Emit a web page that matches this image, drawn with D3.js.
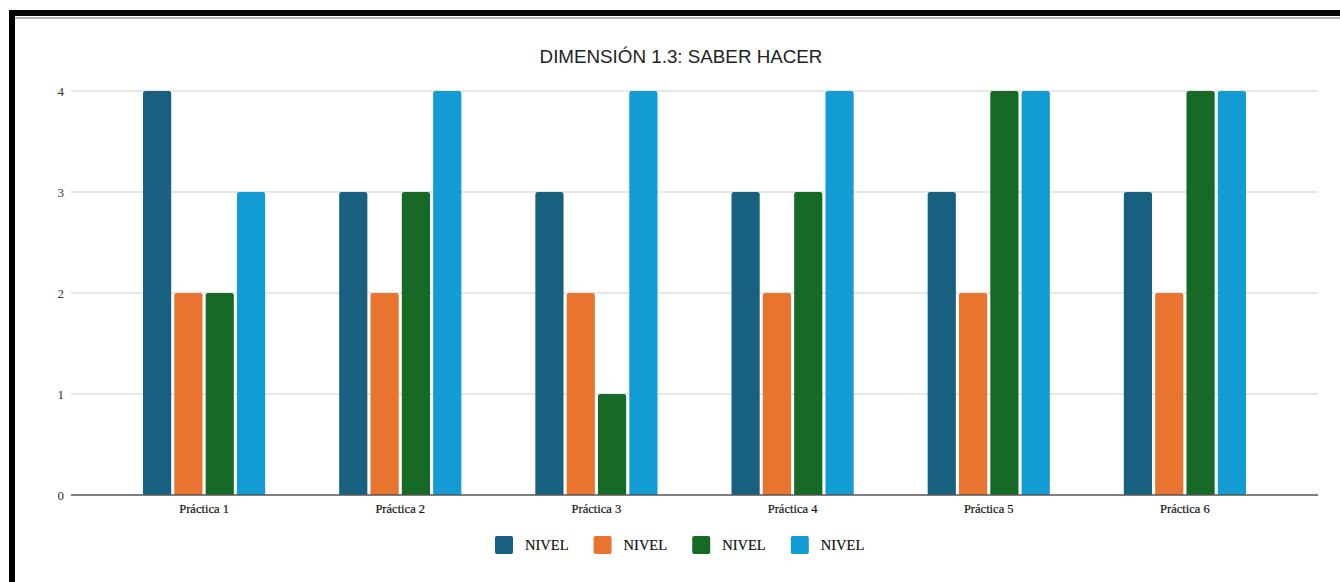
<!DOCTYPE html>
<html>
<head>
<meta charset="utf-8">
<script src="https://cdn.jsdelivr.net/npm/d3@7"></script>
<style>
  html, body { margin: 0; padding: 0; background: #fff; }
  svg { display: block; }
</style>
</head>
<body>
<svg id="chart" width="1340" height="582"></svg>
<script>
// Chart data
const title = "DIMENSIÓN 1.3: SABER HACER";
const categories = ["Práctica 1", "Práctica 2", "Práctica 3", "Práctica 4", "Práctica 5", "Práctica 6"];
const seriesNames = ["NIVEL", "NIVEL", "NIVEL", "NIVEL"];
const seriesColors = ["#18607f", "#e8742f", "#176a26", "#139bd3"];
const series1 = [4, 3, 3, 3, 3, 3];
const series2 = [2, 2, 2, 2, 2, 2];
const series3 = [2, 3, 1, 3, 4, 4];
const series4 = [3, 4, 4, 4, 4, 4];
const yTicks = [0, 1, 2, 3, 4];

const seriesValues = [series1, series2, series3, series4];

const svg = d3.select("#chart");
const W = 1340, H = 582;

// Frame: thick dark edge on top and left, thin grey rule below the top edge
svg.append("rect").attr("x", 9).attr("y", 10).attr("width", W - 9).attr("height", 6).attr("fill", "#000");
svg.append("rect").attr("x", 9).attr("y", 10).attr("width", 6).attr("height", H - 10).attr("fill", "#000");
svg.append("rect").attr("x", 15).attr("y", 17).attr("width", W - 15).attr("height", 2).attr("fill", "#b4b4b4");

const plotLeft = 71, plotRight = 1318;
const y = d3.scaleLinear().domain([0, 4]).range([495, 91]);
const x0 = d3.scaleBand().domain(categories).range([106, 1283]).padding(0);
const groupPad = 37;
const x1 = d3.scaleBand().domain(d3.range(seriesValues.length))
  .range([groupPad, x0.bandwidth() - groupPad]).paddingInner(0.1);

// Title
svg.append("text")
  .attr("x", 681).attr("y", 63)
  .attr("text-anchor", "middle")
  .attr("font-family", "'Liberation Sans', Arial, sans-serif")
  .attr("font-size", 18.8)
  .attr("fill", "#222")
  .text(title);

// Horizontal gridlines
svg.append("g").selectAll("line").data(yTicks.filter(d => d > 0)).join("line")
  .attr("x1", plotLeft).attr("x2", plotRight)
  .attr("y1", d => y(d)).attr("y2", d => y(d))
  .attr("stroke", "#cfcfcf").attr("stroke-width", 1);

// Y tick labels
svg.append("g").selectAll("text").data(yTicks).join("text")
  .attr("x", 64).attr("y", d => y(d) + 4.5)
  .attr("text-anchor", "end")
  .attr("font-family", "'Liberation Serif', serif")
  .attr("font-size", 13)
  .attr("fill", "#333")
  .text(d => d);

// Rounded-top bar path
function barPath(x, yTop, w, yBase, r) {
  r = Math.min(r, w / 2, (yBase - yTop));
  return `M${x},${yBase}V${yTop + r}Q${x},${yTop} ${x + r},${yTop}H${x + w - r}Q${x + w},${yTop} ${x + w},${yTop + r}V${yBase}Z`;
}

// Bars
const groups = svg.append("g").selectAll("g").data(categories).join("g")
  .attr("transform", d => `translate(${x0(d)},0)`);

groups.selectAll("path")
  .data((c, ci) => seriesValues.map((vals, si) => ({ si, v: vals[ci] })))
  .join("path")
  .attr("d", d => barPath(x1(d.si), y(d.v), x1.bandwidth(), y(0), 2.5))
  .attr("fill", d => seriesColors[d.si]);

// Baseline axis
svg.append("line")
  .attr("x1", plotLeft).attr("x2", plotRight)
  .attr("y1", y(0)).attr("y2", y(0))
  .attr("stroke", "#555").attr("stroke-width", 1.5);

// Category labels
svg.append("g").selectAll("text").data(categories).join("text")
  .attr("x", d => x0(d) + x0.bandwidth() / 2)
  .attr("y", 513)
  .attr("text-anchor", "middle")
  .attr("font-family", "'Liberation Serif', serif")
  .attr("font-size", 12.5)
  .attr("fill", "#111")
  .attr("stroke", "#111").attr("stroke-width", 0.2)
  .text(d => d);

// Legend
const legend = svg.append("g").selectAll("g").data(seriesNames).join("g")
  .attr("transform", (d, i) => `translate(${495 + i * 98.6},536)`);
legend.append("rect")
  .attr("width", 18).attr("height", 18).attr("rx", 2)
  .attr("fill", (d, i) => seriesColors[i]);
legend.append("text")
  .attr("x", 30).attr("y", 14)
  .attr("font-family", "'Liberation Serif', serif")
  .attr("font-size", 14.5)
  .attr("fill", "#111")
  .attr("stroke", "#111").attr("stroke-width", 0.2)
  .text(d => d);
</script>
</body>
</html>
